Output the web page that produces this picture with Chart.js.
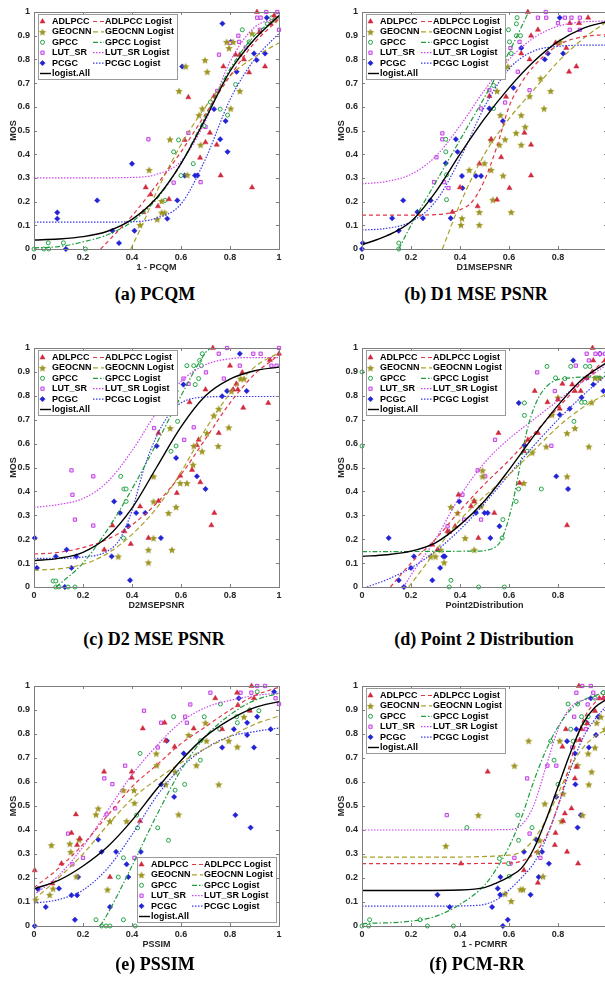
<!DOCTYPE html>
<html>
<head>
<meta charset="utf-8">
<script src="https://cdn.jsdelivr.net/npm/chart.js@4.4.1/dist/chart.umd.min.js"></script>
<style>
  html, body { margin: 0; padding: 0; background: #fff; }
  #page { position: relative; width: 605px; height: 1000px; overflow: hidden; }
  #page canvas { position: absolute; }
  .cap { position: absolute; width: 300px; height: 22px; line-height: 22px; text-align: center;
         font: bold 18px "Liberation Serif", "Times New Roman", serif; color: #000; white-space: nowrap; }
</style>
</head>
<body>
<div id="page">
  <canvas id="pcqm"></canvas>
  <canvas id="d1"></canvas>
  <canvas id="d2"></canvas>
  <canvas id="p2d"></canvas>
  <canvas id="pssim"></canvas>
  <canvas id="pcmrr"></canvas>
  <div class="cap" style="left:5px;top:284px">(a) PCQM</div>
  <div class="cap" style="left:326px;top:284px">(b) D1 MSE PSNR</div>
  <div class="cap" style="left:4px;top:629px">(c) D2 MSE PSNR</div>
  <div class="cap" style="left:334px;top:629px">(d) Point 2 Distribution</div>
  <div class="cap" style="left:5px;top:954px">(e) PSSIM</div>
  <div class="cap" style="left:327px;top:954px">(f) PCM-RR</div>
</div>
<script>
// ---- (a) 1 - PCQM ----
const pcqmADLPCC = [[0.91,1.0],[0.63,0.64],[0.615,0.46],[0.456,0.26],[0.476,0.23],[0.446,0.155],[0.506,0.18],[0.551,0.21],[0.678,0.385],[0.70,0.45],[0.718,0.49],[0.735,0.645],[0.746,0.44],[0.762,0.31],[0.773,0.77],[0.823,0.82],[0.84,0.82],[0.857,0.80],[0.878,0.745],[0.89,0.26],[0.943,0.77],[0.92,0.915],[0.966,0.95],[0.98,0.985]];
const pcqmGEOCNN = [[0.47,0.334],[0.503,0.126],[0.433,0.102],[0.521,0.203],[0.521,0.154],[0.533,0.154],[0.555,0.463],[0.592,0.667],[0.619,0.771],[0.626,0.313],[0.673,0.565],[0.687,0.593],[0.68,0.44],[0.698,0.797],[0.707,0.748],[0.796,0.848],[0.803,0.593],[0.84,0.667],[0.786,0.874],[0.813,0.874],[0.89,0.91],[0.984,0.968]];
const pcqmGPCC = [[0,0],[0.04,0],[0.058,0.026],[0.06,0],[0.12,0.026],[0.21,0],[0.535,0.205],[0.57,0.41],[0.59,0.46],[0.6,0.31],[0.65,0.36],[0.694,0.52],[0.76,0.59],[0.79,0.565],[0.823,0.694],[0.85,0.925],[0.878,0.874],[0.952,0.95],[0.97,0.976],[0.72,0.62]];
const pcqmLUTSR = [[0.467,0.463],[0.57,0.28],[0.63,0.49],[0.68,0.282],[0.70,0.515],[0.748,0.667],[0.755,0.82],[0.834,0.9],[0.864,0.85],[0.837,0.874],[0.922,0.925],[0.911,0.976],[0.925,0.976],[0.948,1.0],[0.993,1.0],[1.0,0.925],[0.80,0.87]];
const pcqmPCGC = [[0.095,0.154],[0.095,0.128],[0.13,0],[0.258,0.205],[0.32,0.077],[0.347,0.025],[0.40,0.36],[0.41,0.077],[0.544,0.128],[0.585,0.205],[0.615,0.31],[0.657,0.31],[0.667,0.31],[0.605,0.77],[0.76,0.463],[0.769,0.951],[0.782,0.54],[0.79,0.41],[0.803,0.874],[0.827,0.748],[0.898,0.825],[0.909,0.797],[0.943,0.825],[0.95,0.976],[0.735,0.59]];
const pcqmADLPCCfit = [[0.272,0],[0.3,0.03],[0.4,0.14],[0.5,0.27],[0.6,0.41],[0.7,0.57],[0.8,0.73],[0.9,0.87],[1,0.97]];
const pcqmGEOCNNfit = [[0.395,0],[0.45,0.12],[0.5,0.24],[0.6,0.44],[0.7,0.6],[0.8,0.73],[0.9,0.81],[1,0.87]];
const pcqmGPCCfit = [[0,0.005],[0.1,0.01],[0.2,0.03],[0.3,0.06],[0.4,0.115],[0.5,0.21],[0.6,0.36],[0.7,0.56],[0.8,0.76],[0.9,0.9],[1,0.98]];
const pcqmLUTSRfit = [[0,0.3],[0.2,0.3],[0.4,0.302],[0.5,0.315],[0.6,0.37],[0.7,0.54],[0.8,0.79],[0.9,0.935],[1,0.975]];
const pcqmPCGCfit = [[0,0.113],[0.2,0.113],[0.4,0.115],[0.5,0.13],[0.6,0.19],[0.7,0.38],[0.8,0.63],[0.9,0.8],[1,0.91]];
const pcqmAllfit = [[0,0.038],[0.1,0.042],[0.2,0.052],[0.3,0.075],[0.4,0.125],[0.5,0.215],[0.6,0.36],[0.7,0.55],[0.8,0.75],[0.9,0.885],[1,0.985]];

// ---- (b) D1MSEPSNR ----
const d1ADLPCC = [[0.677,1.0],[0.923,0.976],[0.886,0.953],[0.848,0.953],[0.69,0.9],[0.718,0.925],[0.65,0.825],[0.834,0.848],[0.684,0.8],[0.845,0.748],[0.875,0.77],[0.52,0.645],[0.588,0.642],[0.527,0.463],[0.479,0.36],[0.568,0.387],[0.663,0.49],[0.69,0.44],[0.69,0.31],[0.602,0.257],[0.551,0.208],[0.472,0.18],[0.40,0.26],[0.369,0.156],[0.79,0.87]];
const d1GEOCNN = [[0.404,0.102],[0.479,0.102],[0.408,0.13],[0.479,0.156],[0.609,0.156],[0.534,0.208],[0.576,0.31],[0.527,0.334],[0.438,0.334],[0.5,0.362],[0.527,0.46],[0.561,0.44],[0.584,0.463],[0.629,0.49],[0.65,0.44],[0.65,0.565],[0.565,0.565],[0.551,0.667],[0.666,0.516],[0.684,0.645],[0.743,0.593],[0.729,0.72],[0.77,0.667],[0.595,0.77],[0.581,0.797],[0.807,0.874]];
const d1GPCC = [[0.15,0],[0.15,0.025],[0.342,0.463],[0.342,0.41],[0.345,0.313],[0.345,0.208],[0.537,0.593],[0.537,0.69],[0.564,0.925],[0.598,0.925],[0.602,0.874],[0.63,0.9],[0.63,0.95],[0.633,0.976],[0.647,0.9],[0.609,0.825]];
const d1LUTSR = [[0.304,0.387],[0.328,0.488],[0.328,0.463],[0.294,0.282],[0.335,0.282],[0.353,0.257],[0.486,0.593],[0.52,0.67],[0.584,0.618],[0.606,0.848],[0.636,0.748],[0.643,0.874],[0.684,0.67],[0.718,0.976],[0.752,0.976],[0.75,1.0],[0.8,0.953],[0.848,0.925],[0.889,0.925],[0.828,0.976],[0.855,0.976],[0.889,0.976]];
const d1PCGC = [[0,0],[0.003,0.025],[0.123,0.13],[0.15,0.077],[0.168,0.205],[0.226,0.156],[0.249,0.13],[0.28,0.205],[0.342,0.362],[0.362,0.13],[0.383,0.463],[0.39,0.41],[0.408,0.308],[0.41,0.257],[0.465,0.308],[0.486,0.308],[0.52,0.593],[0.575,0.54],[0.575,0.748],[0.618,0.68],[0.65,0.848],[0.746,0.8],[0.759,0.825],[0.807,0.976],[0.821,0.825]];
const d1ADLPCCfit = [[0,0.143],[0.2,0.143],[0.3,0.145],[0.35,0.15],[0.4,0.165],[0.45,0.2],[0.5,0.29],[0.55,0.43],[0.6,0.6],[0.65,0.7],[0.7,0.77],[0.8,0.86],[0.9,0.895],[1,0.905]];
const d1GEOCNNfit = [[0.328,0],[0.4,0.19],[0.5,0.4],[0.6,0.55],[0.7,0.67],[0.8,0.79],[0.9,0.885],[1,0.96]];
const d1GPCCfit = [[0.15,0],[0.2,0.1],[0.3,0.28],[0.4,0.46],[0.5,0.64],[0.6,0.83],[0.68,1.0]];
const d1LUTSRfit = [[0,0.275],[0.1,0.285],[0.2,0.315],[0.3,0.39],[0.4,0.52],[0.5,0.67],[0.6,0.8],[0.7,0.89],[0.8,0.94],[0.9,0.958],[1,0.962]];
const d1PCGCfit = [[0,0.08],[0.1,0.087],[0.2,0.115],[0.3,0.2],[0.4,0.38],[0.5,0.6],[0.6,0.76],[0.7,0.835],[0.8,0.855],[0.9,0.86],[1,0.86]];
const d1Allfit = [[0,0.018],[0.1,0.055],[0.2,0.116],[0.3,0.24],[0.4,0.4],[0.5,0.55],[0.6,0.68],[0.7,0.79],[0.8,0.875],[0.9,0.93],[1,0.96]];

// ---- (c) D2MSEPSNR ----
const d2ADLPCC = [[0.73,1.0],[1.0,0.976],[0.963,0.95],[0.956,0.77],[0.854,0.75],[0.8,0.926],[0.85,0.898],[0.826,0.85],[0.832,0.826],[0.813,0.826],[0.70,0.826],[0.635,0.773],[0.672,0.616],[0.665,0.593],[0.645,0.49],[0.679,0.438],[0.736,0.31],[0.724,0.258],[0.508,0.644],[0.508,0.36],[0.583,0.393],[0.597,0.466],[0.433,0.337],[0.395,0.18],[0.369,0.233],[0.32,0.257],[0.287,0.156],[0.467,0.205],[0.754,0.644]];
const d2GEOCNN = [[0.344,0.128],[0.467,0.103],[0.467,0.156],[0.488,0.205],[0.488,0.358],[0.488,0.463],[0.549,0.31],[0.563,0.156],[0.58,0.335],[0.556,0.665],[0.597,0.435],[0.624,0.435],[0.649,0.512],[0.652,0.591],[0.686,0.568],[0.706,0.644],[0.734,0.718],[0.752,0.59],[0.754,0.746],[0.795,0.668],[0.806,0.82],[0.843,0.872],[0.857,0.872],[0.58,0.773]];
const d2GPCC = [[0.089,0],[0.078,0.025],[0.089,0.025],[0.102,0],[0.139,0],[0.167,0],[0.354,0.463],[0.367,0.41],[0.376,0.41],[0.376,0.358],[0.365,0.205],[0.58,0.59],[0.586,0.693],[0.559,0.568],[0.576,0.77],[0.58,0.82],[0.624,0.926],[0.652,0.926],[0.658,0.847],[0.672,0.872],[0.676,0.948],[0.683,0.926],[0.687,0.976]];
const d2LUTSR = [[0.153,0.488],[0.157,0.386],[0.167,0.282],[0.242,0.463],[0.242,0.257],[0.49,0.665],[0.613,0.616],[0.652,0.668],[0.61,0.872],[0.631,0.85],[0.702,0.898],[0.754,0.976],[0.788,1.0],[0.775,0.872],[0.895,0.976],[0.925,0.976],[0.84,0.926],[1.0,1.0],[0.969,0.926],[0.99,0.926]];
const d2PCGC = [[0.003,0.205],[0.012,0.08],[0.089,0.128],[0.133,0.156],[0.126,0],[0.153,0.08],[0.173,0.128],[0.317,0.128],[0.327,0.358],[0.351,0.31],[0.385,0.254],[0.392,0.028],[0.417,0.31],[0.454,0.31],[0.501,0.59],[0.518,0.205],[0.58,0.54],[0.61,0.847],[0.665,0.463],[0.70,0.41],[0.768,0.798],[0.788,0.82],[0.868,0.82],[0.84,0.976]];
const d2ADLPCCfit = [[0,0.138],[0.1,0.145],[0.2,0.165],[0.3,0.2],[0.4,0.26],[0.5,0.35],[0.6,0.47],[0.7,0.62],[0.8,0.77],[0.9,0.89],[1,0.97]];
const d2GEOCNNfit = [[0,0.07],[0.1,0.076],[0.2,0.095],[0.3,0.14],[0.4,0.22],[0.5,0.33],[0.6,0.48],[0.7,0.66],[0.8,0.81],[0.9,0.92],[1,0.98]];
const d2GPCCfit = [[0.09,0],[0.2,0.1],[0.3,0.24],[0.4,0.41],[0.5,0.6],[0.6,0.8],[0.7,0.98],[0.72,1.0]];
const d2LUTSRfit = [[0,0.333],[0.1,0.345],[0.2,0.37],[0.3,0.44],[0.4,0.57],[0.5,0.73],[0.6,0.86],[0.7,0.93],[0.8,0.955],[0.9,0.96],[1,0.96]];
const d2PCGCfit = [[0,0.12],[0.1,0.12],[0.2,0.125],[0.3,0.15],[0.35,0.2],[0.4,0.32],[0.45,0.5],[0.5,0.63],[0.55,0.72],[0.6,0.77],[0.7,0.795],[0.8,0.797],[1,0.797]];
const d2Allfit = [[0,0.11],[0.1,0.12],[0.2,0.145],[0.3,0.21],[0.4,0.33],[0.5,0.5],[0.6,0.67],[0.7,0.8],[0.8,0.87],[0.9,0.905],[1,0.92]];

// ---- (d) Point2Distribution ----
const p2dADLPCC = [[0.941,1.0],[0.944,0.948],[0.992,0.948],[0.94,0.9],[0.917,0.875],[0.893,0.82],[0.858,0.847],[0.869,0.82],[0.818,0.85],[0.8,0.784],[0.807,0.746],[0.705,0.82],[0.757,0.773],[0.677,0.616],[0.718,0.644],[0.557,0.644],[0.643,0.435],[0.66,0.568],[0.837,0.258],[0.54,0.31],[0.475,0.205],[0.394,0.386],[0.38,0.254],[0.445,0.338],[0.458,0.358],[0.356,0.23],[0.349,0.233],[0.308,0.156],[0.287,0.177]];
const p2dGEOCNN = [[0.335,0.103],[0.321,0.156],[0.28,0.128],[0.3,0.128],[0.363,0.335],[0.39,0.31],[0.421,0.205],[0.458,0.362],[0.486,0.338],[0.492,0.463],[0.492,0.488],[0.458,0.156],[0.66,0.435],[0.695,0.563],[0.752,0.588],[0.776,0.721],[0.8,0.793],[0.837,0.644],[0.869,0.665],[0.837,0.463],[0.926,0.588],[0.937,0.773],[0.951,0.875],[0.97,0.875]];
const p2dGPCC = [[0,0.9],[0,0.59],[0.356,0],[0.363,0.028],[0.476,0],[0.581,0],[0.572,0.205],[0.575,0.282],[0.629,0.358],[0.639,0.41],[0.663,0.718],[0.663,0.77],[0.674,0.568],[0.732,0.41],[0.755,0.923],[0.79,0.875],[0.828,0.872],[0.852,0.923],[0.865,0.693],[0.896,0.773],[0.912,0.923],[0.91,0.773],[0.93,0.923],[0.96,0.875]];
const p2dLUTSR = [[0.349,0.254],[0.41,0.386],[0.417,0.282],[0.472,0.488],[0.503,0.463],[0.543,0.616],[0.486,0.282],[0.715,0.898],[0.773,0.591],[0.787,0.82],[0.873,0.926],[0.926,0.948],[0.953,0.976],[0.971,0.976],[0.992,0.976],[0.917,0.976]];
const p2dPCGC = [[0.171,0],[0.15,0.028],[0.109,0.205],[0.2,0.08],[0.212,0.128],[0.287,0.028],[0.319,0.08],[0.332,0.128],[0.338,0.128],[0.397,0.358],[0.465,0.31],[0.5,0.31],[0.513,0.31],[0.524,0.205],[0.561,0.254],[0.64,0.77],[0.663,0.593],[0.793,0.463],[0.807,0.721],[0.841,0.41],[0.848,0.746],[0.862,0.948],[0.896,0.793],[0.917,0.875],[0.944,0.847],[0.971,0.976],[0.985,0.82]];
const p2dADLPCCfit = [[0.116,0],[0.2,0.1],[0.3,0.2],[0.4,0.32],[0.5,0.43],[0.6,0.53],[0.7,0.64],[0.8,0.75],[0.9,0.86],[1,0.96]];
const p2dGEOCNNfit = [[0.19,0],[0.25,0.08],[0.3,0.15],[0.4,0.28],[0.5,0.38],[0.6,0.47],[0.7,0.57],[0.8,0.67],[0.9,0.75],[1,0.81]];
const p2dGPCCfit = [[0,0.148],[0.45,0.15],[0.53,0.16],[0.57,0.2],[0.61,0.33],[0.64,0.48],[0.67,0.64],[0.71,0.77],[0.76,0.845],[0.82,0.872],[1,0.88]];
const p2dLUTSRfit = [[0.17,0],[0.2,0.05],[0.3,0.2],[0.4,0.38],[0.5,0.52],[0.6,0.62],[0.7,0.7],[0.8,0.78],[0.9,0.86],[1,0.93]];
const p2dPCGCfit = [[0.02,0],[0.1,0.03],[0.2,0.08],[0.3,0.15],[0.4,0.24],[0.5,0.35],[0.6,0.47],[0.7,0.59],[0.8,0.7],[0.9,0.8],[1,0.89]];
const p2dAllfit = [[0,0.128],[0.1,0.135],[0.2,0.15],[0.3,0.185],[0.4,0.26],[0.5,0.36],[0.6,0.49],[0.7,0.63],[0.8,0.76],[0.9,0.87],[1,0.94]];

// ---- (e) PSSIM ----
const pssimADLPCC = [[0.003,0.232],[0.075,0.177],[0.112,0.26],[0.171,0.465],[0.153,0.388],[0.187,0.364],[0.176,0.337],[0.286,0.643],[0.31,0.204],[0.399,0.643],[0.399,0.618],[0.444,0.823],[0.433,0.437],[0.533,0.847],[0.538,0.772],[0.574,0.747],[0.652,0.823],[0.74,0.949],[0.768,0.82],[0.829,0.972],[0.888,1.0],[0.881,0.897],[0.898,0.949],[0.832,0.92]];
const pssimGEOCNN = [[0.007,0.11],[0.071,0.337],[0.064,0.13],[0.078,0.156],[0.146,0.343],[0.15,0.309],[0.173,0.207],[0.184,0.36],[0.253,0.465],[0.262,0.49],[0.31,0.437],[0.3,0.152],[0.365,0.566],[0.378,0.437],[0.408,0.566],[0.41,0.513],[0.499,0.719],[0.501,0.67],[0.538,0.59],[0.576,0.643],[0.59,0.465],[0.631,0.796],[0.663,0.67],[0.7,0.847],[0.704,0.772],[0.754,0.59],[0.795,0.772],[0.83,0.747],[0.857,0.872]];
const pssimGPCC = [[0.253,0.026],[0.276,0],[0.294,0],[0.31,0],[0.365,0.026],[0.413,0],[0.344,0.204],[0.365,0.284],[0.419,0.462],[0.423,0.409],[0.433,0.719],[0.505,0.409],[0.549,0.357],[0.57,0.872],[0.576,0.566],[0.615,0.59],[0.679,0.691],[0.68,0.772],[0.695,0.872],[0.758,0.82],[0.761,0.925],[0.827,0.872],[0.83,0.847],[0.918,0.897],[0.911,0.976],[0.88,0.9]];
const pssimLUTSR = [[0.139,0.385],[0.157,0.257],[0.2,0.284],[0.287,0.615],[0.296,0.465],[0.32,0.591],[0.331,0.49],[0.372,0.668],[0.41,0.284],[0.449,0.897],[0.505,0.744],[0.519,0.847],[0.617,0.872],[0.624,0.847],[0.638,0.923],[0.72,0.972],[0.843,0.972],[0.887,0.972],[0.911,1.0],[0.943,1.0],[0.986,0.949],[1.0,0.925]];
const pssimPCGC = [[0.003,0],[0.016,0.154],[0.048,0.079],[0.102,0.156],[0.153,0.128],[0.167,0.026],[0.176,0.128],[0.18,0.204],[0.262,0.36],[0.276,0.309],[0.31,0.079],[0.335,0.309],[0.378,0.257],[0.385,0.204],[0.436,0.309],[0.519,0.59],[0.542,0.772],[0.572,0.538],[0.611,0.719],[0.768,0.744],[0.816,0.82],[0.822,0.462],[0.836,0.949],[0.87,0.847],[0.87,0.796],[0.884,0.41],[0.898,0.744],[0.911,0.872],[0.966,0.82],[0.98,0.976]];
const pssimADLPCCfit = [[0,0.16],[0.1,0.24],[0.2,0.34],[0.3,0.46],[0.4,0.58],[0.5,0.67],[0.6,0.76],[0.7,0.83],[0.8,0.9],[0.9,0.96],[1,0.995]];
const pssimGEOCNNfit = [[0,0.11],[0.1,0.2],[0.2,0.3],[0.3,0.42],[0.4,0.53],[0.5,0.61],[0.6,0.68],[0.7,0.74],[0.8,0.79],[0.9,0.84],[1,0.875]];
const pssimGPCCfit = [[0.27,0],[0.3,0.05],[0.4,0.25],[0.5,0.46],[0.6,0.65],[0.7,0.79],[0.8,0.88],[0.9,0.94],[1,0.97]];
const pssimLUTSRfit = [[0,0.13],[0.1,0.21],[0.2,0.33],[0.3,0.48],[0.4,0.63],[0.5,0.75],[0.6,0.85],[0.7,0.91],[0.8,0.94],[0.9,0.96],[1,0.97]];
const pssimPCGCfit = [[0,0.095],[0.1,0.11],[0.2,0.15],[0.3,0.24],[0.4,0.38],[0.5,0.54],[0.6,0.66],[0.7,0.74],[0.8,0.79],[0.9,0.81],[1,0.825]];
const pssimAllfit = [[0,0.155],[0.1,0.19],[0.2,0.25],[0.3,0.33],[0.4,0.44],[0.5,0.57],[0.6,0.69],[0.7,0.79],[0.8,0.86],[0.9,0.91],[1,0.935]];

// ---- (f) 1 - PCMRR ----
const pcmrrADLPCC = [[0.513,0.643],[0.404,0.26],[0.661,0.232],[0.718,0.18],[0.787,0.337],[0.79,0.388],[0.837,0.309],[0.882,0.26],[0.818,0.747],[0.828,0.469],[0.855,0.49],[0.821,0.437],[0.869,0.615],[0.875,0.663],[0.889,0.775],[0.896,0.82],[0.885,1.0],[0.919,0.844],[0.951,0.896],[0.969,0.949],[0.985,0.949],[0.832,0.82]];
const pcmrrGEOCNN = [[0.342,0.334],[0.475,0.462],[0.584,0.135],[0.609,0.104],[0.622,0.668],[0.647,0.153],[0.657,0.153],[0.68,0.772],[0.718,0.309],[0.725,0.357],[0.739,0.207],[0.746,0.51],[0.807,0.772],[0.814,0.437],[0.821,0.552],[0.9,0.462],[0.88,0.67],[0.923,0.719],[0.926,0.59],[0.937,0.643],[0.951,0.744],[0.958,0.847],[0.975,0.872],[0.992,0.82]];
const pcmrrGPCC = [[0,0],[0.027,0],[0.031,0.026],[0.237,0.026],[0.267,0],[0.373,0],[0.428,0.41],[0.561,0.281],[0.598,0.26],[0.601,0.207],[0.636,0.462],[0.639,0.357],[0.694,0.41],[0.77,0.77],[0.784,0.691],[0.8,0.59],[0.841,0.925],[0.852,0.82],[0.862,0.77],[0.88,0.925],[0.896,0.872],[0.907,0.847],[0.923,0.872],[0.951,0.949],[0.985,0.972]];
const pcmrrLUTSR = [[0.346,0.462],[0.606,0.26],[0.622,0.284],[0.674,0.615],[0.684,0.385],[0.728,0.284],[0.757,0.668],[0.793,0.668],[0.858,0.744],[0.866,0.872],[0.875,0.972],[0.899,1.0],[0.934,1.0],[0.914,0.82],[0.921,0.923],[0.944,0.972],[0.992,0.949]];
const pcmrrPCGC = [[0.308,0.13],[0.358,0.079],[0.531,0.079],[0.554,0.156],[0.564,0.13],[0.565,0.204],[0.575,0],[0.595,0.026],[0.661,0.309],[0.688,0.13],[0.711,0.36],[0.721,0.204],[0.735,0.309],[0.763,0.26],[0.793,0.538],[0.837,0.77],[0.869,0.719],[0.871,0.59],[0.88,0.41],[0.893,0.462],[0.875,0.82],[0.917,0.847],[0.926,0.744],[0.934,0.949],[0.955,0.796],[0.964,0.872],[0.985,0.972]];
const pcmrrADLPCCfit = [[0,0.26],[0.3,0.26],[0.6,0.262],[0.65,0.27],[0.7,0.3],[0.75,0.37],[0.8,0.5],[0.85,0.68],[0.9,0.85],[0.95,0.93],[1,0.96]];
const pcmrrGEOCNNfit = [[0,0.287],[0.3,0.287],[0.6,0.295],[0.65,0.31],[0.7,0.36],[0.75,0.44],[0.8,0.55],[0.85,0.66],[0.9,0.74],[0.95,0.79],[1,0.82]];
const pcmrrGPCCfit = [[0,0.01],[0.2,0.02],[0.3,0.04],[0.4,0.09],[0.5,0.17],[0.55,0.24],[0.6,0.33],[0.65,0.45],[0.7,0.6],[0.75,0.73],[0.8,0.83],[0.85,0.9],[0.9,0.94],[1,0.975]];
const pcmrrLUTSRfit = [[0,0.4],[0.3,0.4],[0.6,0.402],[0.65,0.42],[0.7,0.5],[0.75,0.66],[0.8,0.82],[0.85,0.91],[0.9,0.94],[1,0.95]];
const pcmrrPCGCfit = [[0,0.083],[0.3,0.083],[0.45,0.085],[0.5,0.09],[0.55,0.11],[0.6,0.15],[0.65,0.2],[0.7,0.26],[0.75,0.36],[0.8,0.5],[0.85,0.65],[0.9,0.78],[0.95,0.86],[1,0.92]];
const pcmrrAllfit = [[0,0.148],[0.2,0.148],[0.4,0.15],[0.5,0.16],[0.55,0.18],[0.6,0.205],[0.65,0.24],[0.7,0.32],[0.75,0.44],[0.8,0.58],[0.85,0.72],[0.9,0.84],[0.95,0.91],[1,0.945]];

const FONT = '"Liberation Sans", Arial, Helvetica, sans-serif';
Chart.defaults.font.family = FONT;

// filled five-point star used for GEOCNN markers
function starImage(color, r) {
    const c = document.createElement('canvas');
    const s = Math.ceil(r * 2 + 2);
    c.width = s; c.height = s;
    const g = c.getContext('2d');
    g.beginPath();
    for (let k = 0; k < 10; k++) {
        const rad = k % 2 ? r * 0.45 : r;
        const a = -Math.PI / 2 + k * Math.PI / 5;
        g.lineTo(s / 2 + rad * Math.cos(a), s / 2 + rad * Math.sin(a) + 0.4);
    }
    g.closePath();
    g.fillStyle = color;
    g.fill();
    return c;
}

const STYLES = [
    {name: 'ADLPCC', stroke: '#d02a3c', fill: '#d02a3c', pointStyle: 'triangle', radius: 3, bw: 0.5, line: '#e03646', dash: [4, 3]},
    {name: 'GEOCNN', stroke: '#9d9624', fill: '#9d9624', pointStyle: starImage('#9d9624', 4), radius: 4, bw: 0, line: '#a9a12a', dash: [5, 3]},
    {name: 'GPCC', stroke: '#22a444', fill: '#ffffff', pointStyle: 'circle', radius: 2, bw: 1, line: '#1f9d3e', dash: [5, 2, 1.5, 2]},
    {name: 'LUT_SR', stroke: '#c33fe6', fill: '#f3d6fb', pointStyle: 'rect', radius: 2.3, bw: 1, line: '#cc44ee', dash: [1.5, 1.5]},
    {name: 'PCGC', stroke: '#2323d6', fill: '#2323d6', pointStyle: 'rectRot', radius: 2.7, bw: 0.5, line: '#3838e6', dash: [1.5, 1.5]},
];

function drawMarker(ctx, s, x, y) {
    ctx.fillStyle = s.fill;
    ctx.strokeStyle = s.stroke;
    ctx.lineWidth = s.bw;
    Chart.helpers.drawPoint(ctx, {pointStyle: s.pointStyle, radius: s.radius, rotation: 0, borderWidth: s.bw}, x, y);
}

function drawSample(ctx, color, dash, x1, x2, y, w) {
    ctx.save();
    ctx.strokeStyle = color;
    ctx.lineWidth = w || 1.2;
    ctx.setLineDash(dash);
    ctx.beginPath();
    ctx.moveTo(x1, y);
    ctx.lineTo(x2, y);
    ctx.stroke();
    ctx.restore();
}

// MATLAB-like box with inward ticks on all four sides
const framePlugin = {
    id: 'frame',
    afterDatasetsDraw(chart) {
        const {ctx, chartArea: a, scales: {x, y}} = chart;
        ctx.save();
        ctx.strokeStyle = '#7d7d7d';
        ctx.lineWidth = 1;
        ctx.strokeRect(a.left + 0.5, a.top + 0.5, a.right - a.left, a.bottom - a.top);
        ctx.beginPath();
        x.ticks.forEach(t => {
            const px = Math.round(x.getPixelForValue(t.value)) + 0.5;
            ctx.moveTo(px, a.bottom); ctx.lineTo(px, a.bottom - 3);
            ctx.moveTo(px, a.top); ctx.lineTo(px, a.top + 3);
        });
        y.ticks.forEach(t => {
            const py = Math.round(y.getPixelForValue(t.value)) + 0.5;
            ctx.moveTo(a.left, py); ctx.lineTo(a.left + 3, py);
            ctx.moveTo(a.right, py); ctx.lineTo(a.right - 3, py);
        });
        ctx.stroke();
        ctx.restore();
    }
};

const boxLegend = {
    id: 'boxLegend',
    afterDraw(chart, args, opts) {
        const {ctx, chartArea: a} = chart;
        const w = 139, h = 65;
        const left = Math.round(opts.corner === 'br' ? a.right - 3 - w : a.left + 3.5);
        const top = Math.round(opts.corner === 'br' ? a.bottom - 4 - h : a.top + 2);
        ctx.save();
        ctx.fillStyle = '#fff';
        ctx.fillRect(left, top, w, h);
        ctx.strokeStyle = '#9a9a9a';
        ctx.lineWidth = 1;
        ctx.strokeRect(left + 0.5, top + 0.5, w, h);
        ctx.font = 'bold 9px ' + FONT;
        ctx.textBaseline = 'middle';
        STYLES.forEach((s, i) => {
            const cy = top + 7.5 + i * 10.4;
            drawMarker(ctx, s, left + 4.5, cy);
            drawSample(ctx, s.line, s.dash, left + 55, left + 66, cy);
            ctx.fillStyle = '#000';
            ctx.fillText(s.name, left + 14, cy);
            ctx.fillText(s.name + ' Logist', left + 67, cy);
        });
        const cy = top + 7.5 + 5 * 10.4;
        drawSample(ctx, '#000', [], left + 2, left + 13, cy, 1.4);
        ctx.fillStyle = '#000';
        ctx.fillText('logist.All', left + 14, cy);
        ctx.restore();
    }
};

const pts = arr => arr.map(p => ({x: p[0], y: p[1]}));

function makeChart(id, left, top, plotH, xTitle, points, fits, allFit, corner) {
    const canvas = document.getElementById(id);
    canvas.width = 301;
    canvas.height = 12 + plotH + 31;
    canvas.style.left = left + 'px';
    canvas.style.top = top + 'px';

    const datasets = [];
    // black overall fit on top
    datasets.push({type: 'line', label: 'logist.All', data: pts(allFit), borderColor: '#000', borderWidth: 1.4,
        pointRadius: 0, cubicInterpolationMode: 'monotone', fill: false, clip: false, order: 0});
    STYLES.forEach((s, i) => {
        datasets.push({type: 'line', label: s.name + ' Logist', data: pts(fits[i]), borderColor: s.line,
            borderWidth: 1.2, borderDash: s.dash, pointRadius: 0, cubicInterpolationMode: 'monotone',
            fill: false, clip: false, order: 1});
    });
    STYLES.forEach((s, i) => {
        datasets.push({type: 'scatter', label: s.name, data: pts(points[i]), pointStyle: s.pointStyle,
            pointRadius: s.radius, pointBackgroundColor: s.fill, pointBorderColor: s.stroke,
            pointBorderWidth: s.bw, showLine: false, clip: false, order: 2});
    });

    const tickFont = {size: 9, weight: 'bold'};
    new Chart(canvas, {
        type: 'scatter',
        data: {datasets},
        options: {
            responsive: false,
            animation: false,
            events: [],
            layout: {padding: {left: 0, top: 12, right: 22, bottom: 0}},
            plugins: {legend: {display: false}, tooltip: {enabled: false}, boxLegend: {corner}},
            scales: {
                x: {
                    type: 'linear', min: 0, max: 1,
                    grid: {display: false, drawTicks: false}, border: {display: false},
                    ticks: {stepSize: 0.2, font: tickFont, color: '#262626', padding: 3, maxRotation: 0,
                        callback: v => String(Math.round(v * 10) / 10)},
                    title: {display: true, text: xTitle, font: {size: 9, weight: 'bold'}, color: '#262626',
                        padding: {top: 0, bottom: 7.5}},
                    afterFit: s => { s.height = 31; }
                },
                y: {
                    type: 'linear', min: 0, max: 1,
                    grid: {display: false, drawTicks: false}, border: {display: false},
                    ticks: {stepSize: 0.1, font: tickFont, color: '#262626', padding: 4,
                        callback: v => String(Math.round(v * 10) / 10)},
                    title: {display: true, text: 'MOS', font: {size: 9, weight: 'bold'}, color: '#262626',
                        padding: {top: 8, bottom: 0}},
                    afterFit: s => { s.width = 34; }
                }
            }
        },
        plugins: [framePlugin, boxLegend]
    });
}

makeChart('pcqm', 0, 0, 237, '1 - PCQM',
    [pcqmADLPCC, pcqmGEOCNN, pcqmGPCC, pcqmLUTSR, pcqmPCGC],
    [pcqmADLPCCfit, pcqmGEOCNNfit, pcqmGPCCfit, pcqmLUTSRfit, pcqmPCGCfit], pcqmAllfit, 'tl');
makeChart('d1', 328, 0, 237, 'D1MSEPSNR',
    [d1ADLPCC, d1GEOCNN, d1GPCC, d1LUTSR, d1PCGC],
    [d1ADLPCCfit, d1GEOCNNfit, d1GPCCfit, d1LUTSRfit, d1PCGCfit], d1Allfit, 'tl');
makeChart('d2', 0, 336, 239, 'D2MSEPSNR',
    [d2ADLPCC, d2GEOCNN, d2GPCC, d2LUTSR, d2PCGC],
    [d2ADLPCCfit, d2GEOCNNfit, d2GPCCfit, d2LUTSRfit, d2PCGCfit], d2Allfit, 'tl');
makeChart('p2d', 328, 336, 239, 'Point2Distribution',
    [p2dADLPCC, p2dGEOCNN, p2dGPCC, p2dLUTSR, p2dPCGC],
    [p2dADLPCCfit, p2dGEOCNNfit, p2dGPCCfit, p2dLUTSRfit, p2dPCGCfit], p2dAllfit, 'tl');
makeChart('pssim', 0, 674, 240, 'PSSIM',
    [pssimADLPCC, pssimGEOCNN, pssimGPCC, pssimLUTSR, pssimPCGC],
    [pssimADLPCCfit, pssimGEOCNNfit, pssimGPCCfit, pssimLUTSRfit, pssimPCGCfit], pssimAllfit, 'br');
makeChart('pcmrr', 328, 674, 240, '1 - PCMRR',
    [pcmrrADLPCC, pcmrrGEOCNN, pcmrrGPCC, pcmrrLUTSR, pcmrrPCGC],
    [pcmrrADLPCCfit, pcmrrGEOCNNfit, pcmrrGPCCfit, pcmrrLUTSRfit, pcmrrPCGCfit], pcmrrAllfit, 'tl');
</script>
</body>
</html>
